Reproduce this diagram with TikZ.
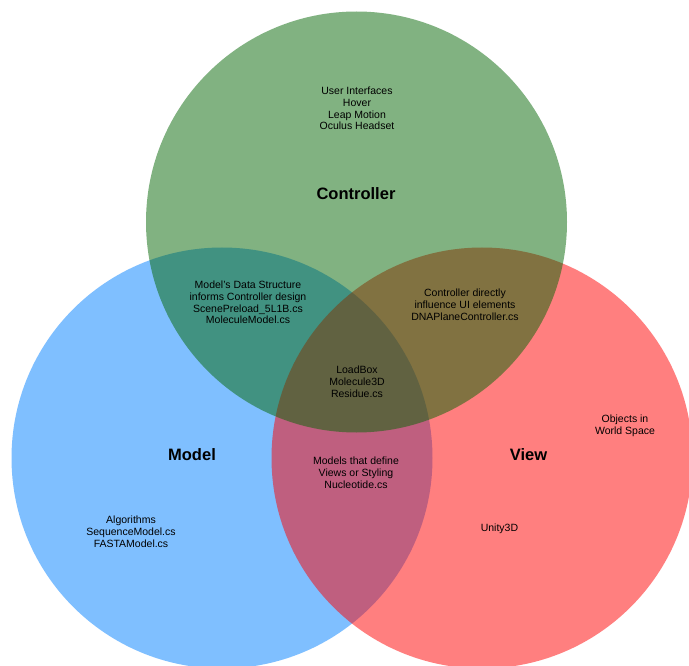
\documentclass[tikz,border=0pt]{standalone}
\usepackage{fontspec}
\setmainfont{Liberation Sans}
\begin{document}
\begin{tikzpicture}[x=1pt,y=-1pt,
  setbox/.style={circle,draw=none,fill opacity=0.5,minimum size=421pt,inner sep=0pt},
  note/.style={align=center,font=\fontsize{10.5}{11.8}\selectfont,text=black,inner sep=0pt},
  heading/.style={font=\fontsize{16.5}{19}\selectfont\bfseries,text=black,inner sep=0pt}]
  \useasboundingbox (0,0) rectangle (689,666);
  \fill[white] (0,0) rectangle (689,666);
  % the three sets
  \node[setbox,fill={rgb,255:red,0;green,128;blue,255}] (model) at (222,458) {};
  \node[setbox,fill={rgb,255:red,255;green,0;blue,0}] (view) at (482,458) {};
  \node[setbox,fill={rgb,255:red,4;green,102;blue,4}] (controller) at (356.5,222) {};
  % set names
  \node[heading] (tctrl) at (356,194) {Controller};
  \node[heading] (tmodel) at (192,455) {Model};
  \node[heading] (tview) at (528.5,455) {View};
  % contents
  \node[note] (cui) at (357,108.5) {User Interfaces\\Hover\\Leap Motion\\Oculus Headset};
  \node[note] (mc) at (248,302.5) {Model's Data Structure\\informs Controller design\\ScenePreload\_5L1B.cs\\MoleculeModel.cs};
  \node[note] (cv) at (465,305) {Controller directly\\influence UI elements\\DNAPlaneController.cs};
  \node[note] (all) at (357,381.5) {LoadBox\\Molecule3D\\Residue.cs};
  \node[note] (mv) at (356,473) {Models that define\\Views or Styling\\Nucleotide.cs};
  \node[note] (alg) at (131,532) {Algorithms\\SequenceModel.cs\\FASTAModel.cs};
  \node[note] (ows) at (625,425.5) {Objects in\\World Space};
  \node[note] (unity) at (499.5,529) {Unity3D};
\end{tikzpicture}
\end{document}
